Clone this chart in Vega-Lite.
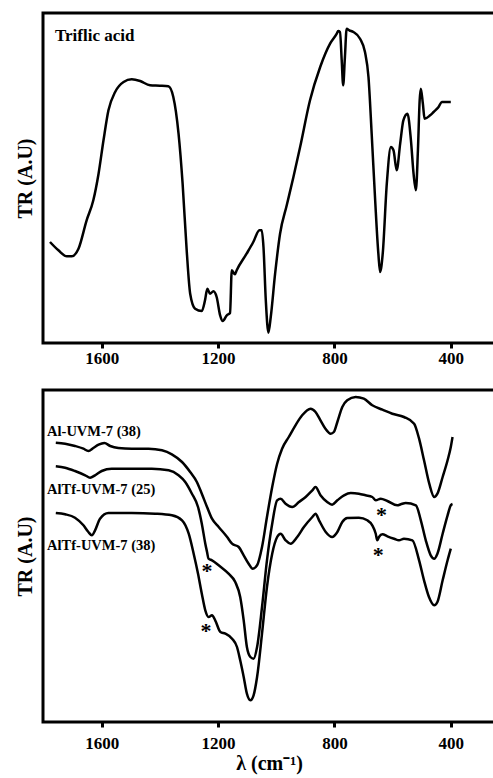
{
  "$schema": "https://vega.github.io/schema/vega-lite/v6.json",
  "padding": {"left": 13, "top": 11, "right": 0, "bottom": 0},
  "spacing": 20,
  "datasets": {
    "triflic": [
      {"wn": 1778, "tr": 101}, {"wn": 1749, "tr": 92.7}, {"wn": 1720, "tr": 86.7}, {"wn": 1703, "tr": 86.7},
      {"wn": 1680, "tr": 94.3}, {"wn": 1652, "tr": 122.7}, {"wn": 1629, "tr": 142.7}, {"wn": 1611, "tr": 169.3},
      {"wn": 1594, "tr": 202.7}, {"wn": 1577, "tr": 232.7}, {"wn": 1554, "tr": 251}, {"wn": 1525, "tr": 261},
      {"wn": 1497, "tr": 263.7}, {"wn": 1468, "tr": 262}, {"wn": 1434, "tr": 257.7}, {"wn": 1400, "tr": 257.3},
      {"wn": 1371, "tr": 256.7}, {"wn": 1354, "tr": 246}, {"wn": 1336, "tr": 209.3}, {"wn": 1322, "tr": 159.3},
      {"wn": 1308, "tr": 92.7}, {"wn": 1296, "tr": 49.3}, {"wn": 1279, "tr": 34.3}, {"wn": 1256, "tr": 32},
      {"wn": 1245, "tr": 42.7}, {"wn": 1237, "tr": 54.3}, {"wn": 1228, "tr": 49.3}, {"wn": 1216, "tr": 51.7},
      {"wn": 1205, "tr": 46}, {"wn": 1193, "tr": 27.7}, {"wn": 1184, "tr": 22}, {"wn": 1170, "tr": 27.7},
      {"wn": 1159, "tr": 30}, {"wn": 1153, "tr": 72.7}, {"wn": 1142, "tr": 68.7}, {"wn": 1136, "tr": 72.7},
      {"wn": 1102, "tr": 89.3}, {"wn": 1079, "tr": 101}, {"wn": 1058, "tr": 112.7}, {"wn": 1050, "tr": 112.7},
      {"wn": 1044, "tr": 96}, {"wn": 1036, "tr": 42.7}, {"wn": 1027, "tr": 10.3}, {"wn": 1019, "tr": 26},
      {"wn": 1004, "tr": 69.3}, {"wn": 987, "tr": 109.3}, {"wn": 964, "tr": 137.7}, {"wn": 941, "tr": 166},
      {"wn": 918, "tr": 196}, {"wn": 884, "tr": 242.7}, {"wn": 849, "tr": 276}, {"wn": 815, "tr": 299.3},
      {"wn": 792, "tr": 309.3}, {"wn": 787, "tr": 312}, {"wn": 781, "tr": 311}, {"wn": 775, "tr": 282.7},
      {"wn": 770, "tr": 257.7}, {"wn": 764, "tr": 286}, {"wn": 758, "tr": 314.3}, {"wn": 749, "tr": 312.7},
      {"wn": 735, "tr": 311}, {"wn": 712, "tr": 304.3}, {"wn": 695, "tr": 291}, {"wn": 683, "tr": 266},
      {"wn": 672, "tr": 209.3}, {"wn": 660, "tr": 142.7}, {"wn": 649, "tr": 89.3}, {"wn": 643, "tr": 71},
      {"wn": 634, "tr": 89.3}, {"wn": 620, "tr": 159.3}, {"wn": 606, "tr": 196}, {"wn": 597, "tr": 192.7},
      {"wn": 586, "tr": 172.7}, {"wn": 574, "tr": 199.3}, {"wn": 563, "tr": 222.7}, {"wn": 549, "tr": 229.3},
      {"wn": 537, "tr": 202.7}, {"wn": 528, "tr": 169.3}, {"wn": 520, "tr": 152.7}, {"wn": 513, "tr": 192.7},
      {"wn": 507, "tr": 242.7}, {"wn": 503, "tr": 254.3}, {"wn": 496, "tr": 239.3}, {"wn": 490, "tr": 224.3},
      {"wn": 471, "tr": 227.7}, {"wn": 459, "tr": 231}, {"wn": 442, "tr": 236}, {"wn": 431, "tr": 241},
      {"wn": 400, "tr": 241}
    ],
    "triflic_label": [{"wn": 1761, "tr": 306.7, "label": "Triflic acid"}],
    "uvm": [
      {"sample": "Al-UVM-7 (38)", "wn": 1758, "tr": 279.3}, {"sample": "Al-UVM-7 (38)", "wn": 1726, "tr": 278.3},
      {"sample": "Al-UVM-7 (38)", "wn": 1692, "tr": 276}, {"sample": "Al-UVM-7 (38)", "wn": 1663, "tr": 273.3},
      {"sample": "Al-UVM-7 (38)", "wn": 1646, "tr": 271}, {"sample": "Al-UVM-7 (38)", "wn": 1629, "tr": 274},
      {"sample": "Al-UVM-7 (38)", "wn": 1611, "tr": 277.3}, {"sample": "Al-UVM-7 (38)", "wn": 1591, "tr": 279},
      {"sample": "Al-UVM-7 (38)", "wn": 1571, "tr": 276}, {"sample": "Al-UVM-7 (38)", "wn": 1543, "tr": 274},
      {"sample": "Al-UVM-7 (38)", "wn": 1497, "tr": 273.3}, {"sample": "Al-UVM-7 (38)", "wn": 1439, "tr": 273.3},
      {"sample": "Al-UVM-7 (38)", "wn": 1393, "tr": 271.7}, {"sample": "Al-UVM-7 (38)", "wn": 1359, "tr": 267.7},
      {"sample": "Al-UVM-7 (38)", "wn": 1324, "tr": 260}, {"sample": "Al-UVM-7 (38)", "wn": 1296, "tr": 250},
      {"sample": "Al-UVM-7 (38)", "wn": 1273, "tr": 240}, {"sample": "Al-UVM-7 (38)", "wn": 1256, "tr": 228.3},
      {"sample": "Al-UVM-7 (38)", "wn": 1238, "tr": 215}, {"sample": "Al-UVM-7 (38)", "wn": 1221, "tr": 203.3},
      {"sample": "Al-UVM-7 (38)", "wn": 1198, "tr": 195}, {"sample": "Al-UVM-7 (38)", "wn": 1169, "tr": 185},
      {"sample": "Al-UVM-7 (38)", "wn": 1152, "tr": 178.3}, {"sample": "Al-UVM-7 (38)", "wn": 1129, "tr": 175},
      {"sample": "Al-UVM-7 (38)", "wn": 1112, "tr": 166.7}, {"sample": "Al-UVM-7 (38)", "wn": 1095, "tr": 158.3},
      {"sample": "Al-UVM-7 (38)", "wn": 1081, "tr": 153.3}, {"sample": "Al-UVM-7 (38)", "wn": 1066, "tr": 156.7},
      {"sample": "Al-UVM-7 (38)", "wn": 1049, "tr": 175}, {"sample": "Al-UVM-7 (38)", "wn": 1032, "tr": 205},
      {"sample": "Al-UVM-7 (38)", "wn": 1014, "tr": 235}, {"sample": "Al-UVM-7 (38)", "wn": 997, "tr": 258.3},
      {"sample": "Al-UVM-7 (38)", "wn": 980, "tr": 273.3}, {"sample": "Al-UVM-7 (38)", "wn": 957, "tr": 285},
      {"sample": "Al-UVM-7 (38)", "wn": 934, "tr": 296.7}, {"sample": "Al-UVM-7 (38)", "wn": 911, "tr": 306.7},
      {"sample": "Al-UVM-7 (38)", "wn": 882, "tr": 313.3}, {"sample": "Al-UVM-7 (38)", "wn": 865, "tr": 310},
      {"sample": "Al-UVM-7 (38)", "wn": 848, "tr": 301.7}, {"sample": "Al-UVM-7 (38)", "wn": 831, "tr": 293.3},
      {"sample": "Al-UVM-7 (38)", "wn": 813, "tr": 288.3}, {"sample": "Al-UVM-7 (38)", "wn": 802, "tr": 290},
      {"sample": "Al-UVM-7 (38)", "wn": 790, "tr": 300}, {"sample": "Al-UVM-7 (38)", "wn": 773, "tr": 315},
      {"sample": "Al-UVM-7 (38)", "wn": 756, "tr": 321.7}, {"sample": "Al-UVM-7 (38)", "wn": 727, "tr": 325},
      {"sample": "Al-UVM-7 (38)", "wn": 699, "tr": 323.3}, {"sample": "Al-UVM-7 (38)", "wn": 670, "tr": 316.7},
      {"sample": "Al-UVM-7 (38)", "wn": 635, "tr": 312.3}, {"sample": "Al-UVM-7 (38)", "wn": 601, "tr": 308.3},
      {"sample": "Al-UVM-7 (38)", "wn": 561, "tr": 305}, {"sample": "Al-UVM-7 (38)", "wn": 526, "tr": 298.3},
      {"sample": "Al-UVM-7 (38)", "wn": 509, "tr": 283.3}, {"sample": "Al-UVM-7 (38)", "wn": 492, "tr": 261.7},
      {"sample": "Al-UVM-7 (38)", "wn": 474, "tr": 238.3}, {"sample": "Al-UVM-7 (38)", "wn": 457, "tr": 225},
      {"sample": "Al-UVM-7 (38)", "wn": 446, "tr": 228.3}, {"sample": "Al-UVM-7 (38)", "wn": 428, "tr": 245},
      {"sample": "Al-UVM-7 (38)", "wn": 411, "tr": 261.7}, {"sample": "Al-UVM-7 (38)", "wn": 400, "tr": 275},
      {"sample": "Al-UVM-7 (38)", "wn": 394, "tr": 285},

      {"sample": "AlTf-UVM-7 (25)", "wn": 1758, "tr": 255.7}, {"sample": "AlTf-UVM-7 (25)", "wn": 1726, "tr": 254.3},
      {"sample": "AlTf-UVM-7 (25)", "wn": 1692, "tr": 251}, {"sample": "AlTf-UVM-7 (25)", "wn": 1657, "tr": 246.7},
      {"sample": "AlTf-UVM-7 (25)", "wn": 1640, "tr": 244.3}, {"sample": "AlTf-UVM-7 (25)", "wn": 1623, "tr": 246.7},
      {"sample": "AlTf-UVM-7 (25)", "wn": 1600, "tr": 251}, {"sample": "AlTf-UVM-7 (25)", "wn": 1566, "tr": 253.3},
      {"sample": "AlTf-UVM-7 (25)", "wn": 1497, "tr": 253.3}, {"sample": "AlTf-UVM-7 (25)", "wn": 1428, "tr": 253.3},
      {"sample": "AlTf-UVM-7 (25)", "wn": 1370, "tr": 251.7}, {"sample": "AlTf-UVM-7 (25)", "wn": 1336, "tr": 246.7},
      {"sample": "AlTf-UVM-7 (25)", "wn": 1313, "tr": 240}, {"sample": "AlTf-UVM-7 (25)", "wn": 1290, "tr": 228.3},
      {"sample": "AlTf-UVM-7 (25)", "wn": 1269, "tr": 215}, {"sample": "AlTf-UVM-7 (25)", "wn": 1256, "tr": 198.3},
      {"sample": "AlTf-UVM-7 (25)", "wn": 1244, "tr": 178.3}, {"sample": "AlTf-UVM-7 (25)", "wn": 1238, "tr": 170},
      {"sample": "AlTf-UVM-7 (25)", "wn": 1233, "tr": 163.3}, {"sample": "AlTf-UVM-7 (25)", "wn": 1221, "tr": 161.7},
      {"sample": "AlTf-UVM-7 (25)", "wn": 1198, "tr": 156.7}, {"sample": "AlTf-UVM-7 (25)", "wn": 1164, "tr": 148.3},
      {"sample": "AlTf-UVM-7 (25)", "wn": 1141, "tr": 140}, {"sample": "AlTf-UVM-7 (25)", "wn": 1124, "tr": 125},
      {"sample": "AlTf-UVM-7 (25)", "wn": 1112, "tr": 101.7}, {"sample": "AlTf-UVM-7 (25)", "wn": 1101, "tr": 75},
      {"sample": "AlTf-UVM-7 (25)", "wn": 1089, "tr": 65}, {"sample": "AlTf-UVM-7 (25)", "wn": 1078, "tr": 63.3},
      {"sample": "AlTf-UVM-7 (25)", "wn": 1066, "tr": 75}, {"sample": "AlTf-UVM-7 (25)", "wn": 1049, "tr": 115},
      {"sample": "AlTf-UVM-7 (25)", "wn": 1032, "tr": 161.7}, {"sample": "AlTf-UVM-7 (25)", "wn": 1014, "tr": 198.3},
      {"sample": "AlTf-UVM-7 (25)", "wn": 997, "tr": 221.7}, {"sample": "AlTf-UVM-7 (25)", "wn": 985, "tr": 223.3},
      {"sample": "AlTf-UVM-7 (25)", "wn": 968, "tr": 218.3}, {"sample": "AlTf-UVM-7 (25)", "wn": 945, "tr": 215},
      {"sample": "AlTf-UVM-7 (25)", "wn": 922, "tr": 220}, {"sample": "AlTf-UVM-7 (25)", "wn": 899, "tr": 225},
      {"sample": "AlTf-UVM-7 (25)", "wn": 876, "tr": 231.7}, {"sample": "AlTf-UVM-7 (25)", "wn": 865, "tr": 235},
      {"sample": "AlTf-UVM-7 (25)", "wn": 848, "tr": 226.7}, {"sample": "AlTf-UVM-7 (25)", "wn": 825, "tr": 220},
      {"sample": "AlTf-UVM-7 (25)", "wn": 808, "tr": 217.3}, {"sample": "AlTf-UVM-7 (25)", "wn": 790, "tr": 221.7},
      {"sample": "AlTf-UVM-7 (25)", "wn": 767, "tr": 226.7}, {"sample": "AlTf-UVM-7 (25)", "wn": 744, "tr": 229},
      {"sample": "AlTf-UVM-7 (25)", "wn": 716, "tr": 228.3}, {"sample": "AlTf-UVM-7 (25)", "wn": 693, "tr": 226.7},
      {"sample": "AlTf-UVM-7 (25)", "wn": 670, "tr": 225}, {"sample": "AlTf-UVM-7 (25)", "wn": 658, "tr": 221.7},
      {"sample": "AlTf-UVM-7 (25)", "wn": 641, "tr": 223.3}, {"sample": "AlTf-UVM-7 (25)", "wn": 618, "tr": 221},
      {"sample": "AlTf-UVM-7 (25)", "wn": 584, "tr": 216.7}, {"sample": "AlTf-UVM-7 (25)", "wn": 572, "tr": 217.7},
      {"sample": "AlTf-UVM-7 (25)", "wn": 555, "tr": 219}, {"sample": "AlTf-UVM-7 (25)", "wn": 520, "tr": 216.7},
      {"sample": "AlTf-UVM-7 (25)", "wn": 503, "tr": 201.7}, {"sample": "AlTf-UVM-7 (25)", "wn": 486, "tr": 181.7},
      {"sample": "AlTf-UVM-7 (25)", "wn": 469, "tr": 166.7}, {"sample": "AlTf-UVM-7 (25)", "wn": 457, "tr": 163.3},
      {"sample": "AlTf-UVM-7 (25)", "wn": 446, "tr": 168.3}, {"sample": "AlTf-UVM-7 (25)", "wn": 428, "tr": 188.3},
      {"sample": "AlTf-UVM-7 (25)", "wn": 411, "tr": 206.7}, {"sample": "AlTf-UVM-7 (25)", "wn": 400, "tr": 216.7},
      {"sample": "AlTf-UVM-7 (25)", "wn": 394, "tr": 218},

      {"sample": "AlTf-UVM-7 (38)", "wn": 1758, "tr": 209}, {"sample": "AlTf-UVM-7 (38)", "wn": 1726, "tr": 207.7},
      {"sample": "AlTf-UVM-7 (38)", "wn": 1692, "tr": 204.3}, {"sample": "AlTf-UVM-7 (38)", "wn": 1663, "tr": 196.7},
      {"sample": "AlTf-UVM-7 (38)", "wn": 1646, "tr": 190}, {"sample": "AlTf-UVM-7 (38)", "wn": 1634, "tr": 186.7},
      {"sample": "AlTf-UVM-7 (38)", "wn": 1623, "tr": 191.7}, {"sample": "AlTf-UVM-7 (38)", "wn": 1606, "tr": 203.3},
      {"sample": "AlTf-UVM-7 (38)", "wn": 1577, "tr": 209}, {"sample": "AlTf-UVM-7 (38)", "wn": 1497, "tr": 209},
      {"sample": "AlTf-UVM-7 (38)", "wn": 1416, "tr": 208.3}, {"sample": "AlTf-UVM-7 (38)", "wn": 1359, "tr": 206.7},
      {"sample": "AlTf-UVM-7 (38)", "wn": 1324, "tr": 201.7}, {"sample": "AlTf-UVM-7 (38)", "wn": 1301, "tr": 188.3},
      {"sample": "AlTf-UVM-7 (38)", "wn": 1284, "tr": 168.3}, {"sample": "AlTf-UVM-7 (38)", "wn": 1269, "tr": 148.3},
      {"sample": "AlTf-UVM-7 (38)", "wn": 1256, "tr": 128.3}, {"sample": "AlTf-UVM-7 (38)", "wn": 1244, "tr": 111.7},
      {"sample": "AlTf-UVM-7 (38)", "wn": 1233, "tr": 105}, {"sample": "AlTf-UVM-7 (38)", "wn": 1221, "tr": 106.7},
      {"sample": "AlTf-UVM-7 (38)", "wn": 1210, "tr": 101.7}, {"sample": "AlTf-UVM-7 (38)", "wn": 1192, "tr": 90},
      {"sample": "AlTf-UVM-7 (38)", "wn": 1175, "tr": 88.3}, {"sample": "AlTf-UVM-7 (38)", "wn": 1152, "tr": 83.3},
      {"sample": "AlTf-UVM-7 (38)", "wn": 1135, "tr": 75}, {"sample": "AlTf-UVM-7 (38)", "wn": 1124, "tr": 61.7},
      {"sample": "AlTf-UVM-7 (38)", "wn": 1112, "tr": 45}, {"sample": "AlTf-UVM-7 (38)", "wn": 1101, "tr": 28.3},
      {"sample": "AlTf-UVM-7 (38)", "wn": 1089, "tr": 21.7}, {"sample": "AlTf-UVM-7 (38)", "wn": 1078, "tr": 26.7},
      {"sample": "AlTf-UVM-7 (38)", "wn": 1066, "tr": 45}, {"sample": "AlTf-UVM-7 (38)", "wn": 1049, "tr": 88.3},
      {"sample": "AlTf-UVM-7 (38)", "wn": 1032, "tr": 135}, {"sample": "AlTf-UVM-7 (38)", "wn": 1014, "tr": 168.3},
      {"sample": "AlTf-UVM-7 (38)", "wn": 997, "tr": 185}, {"sample": "AlTf-UVM-7 (38)", "wn": 985, "tr": 188.3},
      {"sample": "AlTf-UVM-7 (38)", "wn": 968, "tr": 181.7}, {"sample": "AlTf-UVM-7 (38)", "wn": 951, "tr": 178.3},
      {"sample": "AlTf-UVM-7 (38)", "wn": 928, "tr": 185}, {"sample": "AlTf-UVM-7 (38)", "wn": 905, "tr": 195},
      {"sample": "AlTf-UVM-7 (38)", "wn": 876, "tr": 205}, {"sample": "AlTf-UVM-7 (38)", "wn": 865, "tr": 208.3},
      {"sample": "AlTf-UVM-7 (38)", "wn": 853, "tr": 201.7}, {"sample": "AlTf-UVM-7 (38)", "wn": 830, "tr": 190},
      {"sample": "AlTf-UVM-7 (38)", "wn": 808, "tr": 185}, {"sample": "AlTf-UVM-7 (38)", "wn": 790, "tr": 190},
      {"sample": "AlTf-UVM-7 (38)", "wn": 773, "tr": 200}, {"sample": "AlTf-UVM-7 (38)", "wn": 756, "tr": 204},
      {"sample": "AlTf-UVM-7 (38)", "wn": 716, "tr": 204.3}, {"sample": "AlTf-UVM-7 (38)", "wn": 687, "tr": 201.7},
      {"sample": "AlTf-UVM-7 (38)", "wn": 670, "tr": 196.7}, {"sample": "AlTf-UVM-7 (38)", "wn": 658, "tr": 188.3},
      {"sample": "AlTf-UVM-7 (38)", "wn": 653, "tr": 181.7}, {"sample": "AlTf-UVM-7 (38)", "wn": 647, "tr": 185},
      {"sample": "AlTf-UVM-7 (38)", "wn": 635, "tr": 187.7}, {"sample": "AlTf-UVM-7 (38)", "wn": 618, "tr": 185.7},
      {"sample": "AlTf-UVM-7 (38)", "wn": 595, "tr": 183.3}, {"sample": "AlTf-UVM-7 (38)", "wn": 578, "tr": 181.7},
      {"sample": "AlTf-UVM-7 (38)", "wn": 561, "tr": 183.3}, {"sample": "AlTf-UVM-7 (38)", "wn": 532, "tr": 181.7},
      {"sample": "AlTf-UVM-7 (38)", "wn": 509, "tr": 161.7}, {"sample": "AlTf-UVM-7 (38)", "wn": 492, "tr": 141.7},
      {"sample": "AlTf-UVM-7 (38)", "wn": 475, "tr": 125}, {"sample": "AlTf-UVM-7 (38)", "wn": 457, "tr": 116.7},
      {"sample": "AlTf-UVM-7 (38)", "wn": 446, "tr": 120}, {"sample": "AlTf-UVM-7 (38)", "wn": 428, "tr": 141.7},
      {"sample": "AlTf-UVM-7 (38)", "wn": 411, "tr": 161.7}, {"sample": "AlTf-UVM-7 (38)", "wn": 400, "tr": 173.3}
    ],
    "uvm_labels": [
      {"wn": 1788, "tr": 290, "label": "Al-UVM-7 (38)"},
      {"wn": 1788, "tr": 231.7, "label": "AlTf-UVM-7 (25)"},
      {"wn": 1788, "tr": 176, "label": "AlTf-UVM-7 (38)"}
    ],
    "stars": [
      {"wn": 1238, "tr": 156.7, "label": "*"},
      {"wn": 1242, "tr": 96.7, "label": "*"},
      {"wn": 638, "tr": 213.3, "label": "*"},
      {"wn": 649, "tr": 173.3, "label": "*"}
    ]
  },
  "config": {
    "view": {"stroke": "black", "strokeWidth": 3},
    "font": "Liberation Serif, Times New Roman, serif",
    "axis": {
      "labelFont": "Liberation Serif, Times New Roman, serif", "labelFontWeight": "bold", "labelFontSize": 17, "labelColor": "black",
      "titleFont": "Liberation Serif, Times New Roman, serif", "titleFontWeight": "bold", "titleFontSize": 20, "titleColor": "black",
      "domain": false, "grid": false, "tickColor": "black", "tickWidth": 3, "tickSize": 5, "format": "d"
    }
  },
  "vconcat": [
    {
      "width": 452, "height": 330,
      "layer": [
        {
          "data": {"name": "triflic"},
          "mark": {"type": "line", "color": "black", "strokeWidth": 2.5, "interpolate": "monotone"},
          "encoding": {
            "x": {"field": "wn", "type": "quantitative", "scale": {"domain": [248, 1802], "reverse": true, "nice": false, "zero": false},
                  "axis": {"values": [1600, 1200, 800, 400], "title": null, "labelPadding": 2}},
            "y": {"field": "tr", "type": "quantitative", "scale": {"domain": [0, 330], "nice": false},
                  "axis": {"title": "TR (A.U)", "labels": false, "ticks": false, "titlePadding": 8}},
            "order": {"field": "wn", "sort": "descending"}
          }
        },
        {
          "data": {"name": "triflic_label"},
          "mark": {"type": "text", "align": "left", "baseline": "middle", "fontWeight": "bold", "fontSize": 17, "font": "Liberation Serif, Times New Roman, serif", "color": "black"},
          "encoding": {
            "x": {"field": "wn", "type": "quantitative"},
            "y": {"field": "tr", "type": "quantitative"},
            "text": {"field": "label"}
          }
        }
      ]
    },
    {
      "width": 452, "height": 332,
      "layer": [
        {
          "data": {"name": "uvm"},
          "mark": {"type": "line", "color": "black", "strokeWidth": 2.5, "interpolate": "monotone"},
          "encoding": {
            "x": {"field": "wn", "type": "quantitative", "scale": {"domain": [248, 1802], "reverse": true, "nice": false, "zero": false},
                  "axis": {"values": [1600, 1200, 800, 400], "title": "λ (cm⁻¹)", "labelPadding": 8, "titlePadding": 2}},
            "y": {"field": "tr", "type": "quantitative", "scale": {"domain": [0, 332], "nice": false},
                  "axis": {"title": "TR (A.U)", "labels": false, "ticks": false, "titlePadding": 8}},
            "detail": {"field": "sample"},
            "order": {"field": "wn", "sort": "descending"}
          }
        },
        {
          "data": {"name": "uvm_labels"},
          "mark": {"type": "text", "align": "left", "baseline": "middle", "fontWeight": "bold", "fontSize": 14.5, "font": "Liberation Serif, Times New Roman, serif", "color": "black"},
          "encoding": {
            "x": {"field": "wn", "type": "quantitative"},
            "y": {"field": "tr", "type": "quantitative"},
            "text": {"field": "label"}
          }
        },
        {
          "data": {"name": "stars"},
          "mark": {"type": "text", "align": "center", "baseline": "middle", "fontWeight": "bold", "fontSize": 22, "dy": 6, "font": "Liberation Serif, Times New Roman, serif", "color": "black"},
          "encoding": {
            "x": {"field": "wn", "type": "quantitative"},
            "y": {"field": "tr", "type": "quantitative"},
            "text": {"field": "label"}
          }
        }
      ]
    }
  ]
}
